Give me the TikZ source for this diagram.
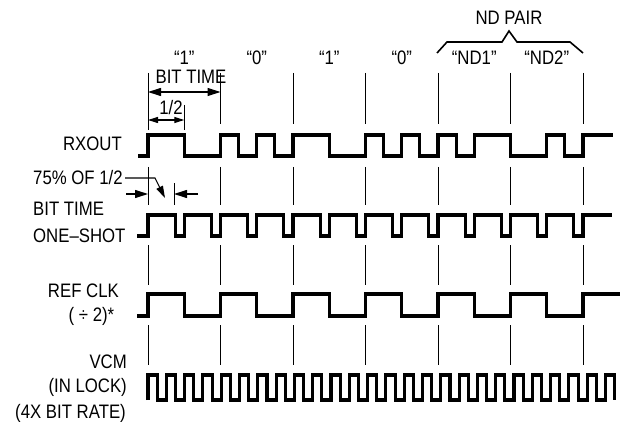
\documentclass[tikz,border=0pt]{standalone}
\usepackage{fontspec}
\setmainfont{Liberation Sans}[FakeStretch=0.86]
\usetikzlibrary{arrows.meta}
\newcommand\Q[1]{148+(#1)*18.125}
\newcommand\V[1]{148+(#1)*9.15}
\begin{document}
\begin{tikzpicture}[x=1pt,y=-1pt,
  wave/.style={line width=3.1pt},
  tick/.style={line width=0.8pt},
  dim/.style={line width=1.1pt},
  lbl/.style={inner sep=0pt, font=\fontsize{19.5}{22}\selectfont},
  bigtip/.style={-{Triangle[length=13pt,width=8pt]}},
  bothtip/.style={{Triangle[length=13pt,width=8pt]}-{Triangle[length=13pt,width=8pt]}},
  smalltip/.style={{Triangle[length=10pt,width=6pt]}-{Triangle[length=10pt,width=6pt]}}
]
\useasboundingbox (0,0) rectangle (623,422);

% ---- top labels
\node[lbl, anchor=base] (b1) at (184.25,65) {“1”};
\node[lbl, anchor=base] (b2) at (256.75,65) {“0”};
\node[lbl, anchor=base] (b3) at (329.25,65) {“1”};
\node[lbl, anchor=base] (b4) at (401.75,65) {“0”};
\node[lbl, anchor=base] (b5) at (474.25,65) {“ND1”};
\node[lbl, anchor=base] (b6) at (546.75,65) {“ND2”};
\node[lbl, anchor=base] (ndp) at (509,25) {ND PAIR};
\draw[line width=1.6pt] (437,53) -- (447,42) -- (502,42) -- (509,31) -- (517,42) -- (570,42) -- (583,53);

\node[lbl, anchor=base] (bt) at (191,84) {BIT TIME};
\node[lbl, anchor=base] (half) at (171,115) {1/2};

% ---- left labels
\node[lbl, anchor=base east] (rx) at (122,151) {RXOUT};
\node[lbl, anchor=base west] (pct) at (33,185) {75\% OF 1/2};
\node[lbl, anchor=base west] (bt2) at (33,215) {BIT TIME};
\node[lbl, anchor=base west] (os) at (33,242) {ONE–SHOT};
\node[lbl, anchor=base east] (rc) at (119,297) {REF CLK};
\node[lbl, anchor=base] (dv) at (91.5,321) {( ÷ 2)*};
\node[lbl, anchor=base east] (vcm) at (127,368) {VCM};
\node[lbl, anchor=base east] (il) at (127,392) {(IN LOCK)};
\node[lbl, anchor=base east] (br) at (126,418) {(4X BIT RATE)};

% ---- tick lines
\draw[tick] (148,73) -- (148,130);
\foreach \k in {1,...,6} \draw[tick] ({148+72.5*\k},73) -- ({148+72.5*\k},124);
\draw[tick] (184.25,105) -- (184.25,130);
\foreach \k in {0,...,6} {
  \draw[tick] ({148+72.5*\k},167) -- ({148+72.5*\k},205);
  \draw[tick] ({148+72.5*\k},245) -- ({148+72.5*\k},285);
  \draw[tick] ({148+72.5*\k},325) -- ({148+72.5*\k},365);
}
\draw[tick] (174,183) -- (174,205);

% ---- dimension arrows
\coordinate (btL) at (148,92); \coordinate (btR) at (220.5,92);
\draw[dim, bothtip] (btL) -- (btR);
\coordinate (hL) at (148,120); \coordinate (hR) at (184.25,120);
\draw[dim, smalltip] (hL) -- (hR);
\coordinate (p1) at (125,178); \coordinate (p2) at (155,178); \coordinate (p3) at (165,198);
\draw[dim, -{Triangle[length=12pt,width=7pt]}] (p1) -- (p2) -- (p3);
\coordinate (a1) at (126,194); \coordinate (a2) at (148,194);
\draw[dim, bigtip] (a1) -- (a2);
\coordinate (a3) at (198,194); \coordinate (a4) at (174,194);
\draw[dim, bigtip] (a3) -- (a4);

% ---- RXOUT
\draw[wave] (138,156) -| ({\Q{0}},135) -| ({\Q{2}},156) -| ({\Q{4}},135) -| ({\Q{5}},156)
  -| ({\Q{6}},135) -| ({\Q{7}},156) -| ({\Q{8}},135) -| ({\Q{10}},156) -| ({\Q{12}},135)
  -| ({\Q{13}},156) -| ({\Q{14}},135) -| ({\Q{15}},156) -| ({\Q{16}},135) -| ({\Q{17}},156)
  -| ({\Q{18}},135) -| ({\Q{20}},156) -| ({\Q{22}},135) -| ({\Q{23}},156) -| ({\Q{24}},135)
  -- (613,135);

% ---- ONE-SHOT
\draw[wave] (137,236) -| ({\Q{0}},215)
  foreach \n in {0,...,11} { -| ({\Q{2*\n+1.5}},236) -| ({\Q{2*\n+2}},215) }
  -- (612,215);

% ---- REF CLK
\draw[wave] (137,316) -| ({\Q{0}},294)
  foreach \n in {0,...,5} { -| ({\Q{4*\n+2}},316) -| ({\Q{4*\n+4}},294) }
  -- (620,294);

% ---- VCM
\draw[wave] ({\V{0}},400) -- ({\V{0}},375)
  foreach \n in {0,...,24} { -| ({\V{2*\n+1}},400) -| ({\V{2*\n+2}},375) }
  -| ({\V{51}},400);
\end{tikzpicture}
\end{document}
